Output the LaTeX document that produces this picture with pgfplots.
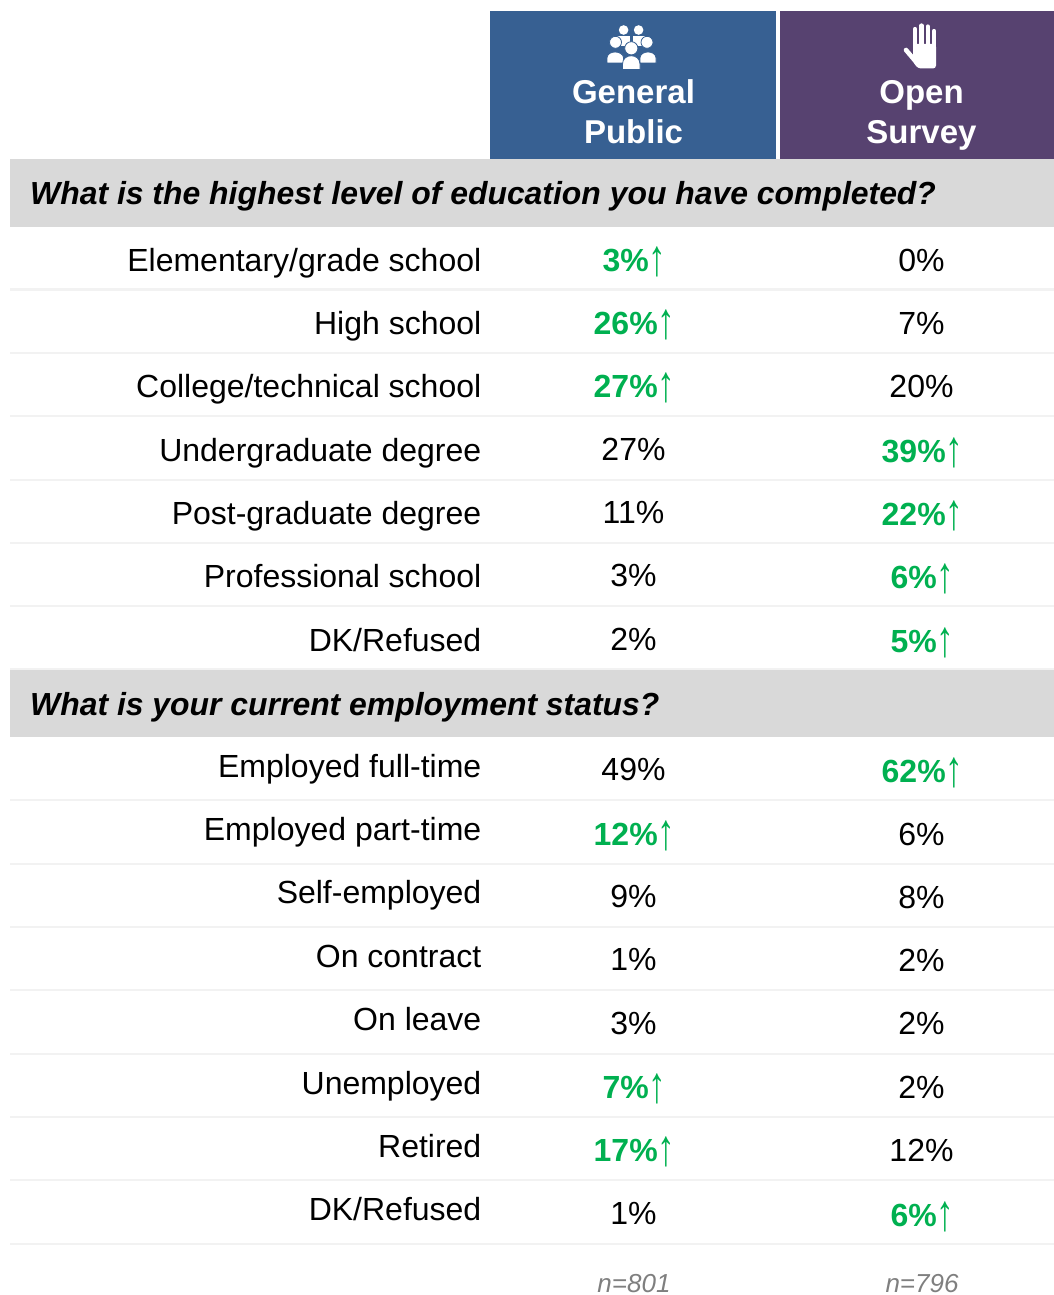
\documentclass[border=0pt]{standalone}
\usepackage{fontspec}
\setmainfont{Liberation Sans}
\usepackage{pgfplots}
\usepackage{pgfplotstable}
\pgfplotsset{compat=1.18}
\definecolor{gpblue}{HTML}{376092}
\definecolor{ospurple}{HTML}{574270}
\definecolor{band}{HTML}{D9D9D9}
\definecolor{rule}{HTML}{F2F2F2}
\definecolor{siggreen}{HTML}{00B050}
\definecolor{ngrey}{HTML}{7F7F7F}

% row labels: x, baseline y, text
\pgfplotstableread[col sep=comma]{
x,y,label
481.5,271,Elementary/grade school
481.5,334,High school
481.5,397,College/technical school
481.5,461,Undergraduate degree
481.5,524,Post-graduate degree
481.5,587,Professional school
481.5,651,DK/Refused
481.5,777,Employed full-time
481.5,840,Employed part-time
481.5,903,Self-employed
481.5,967,On contract
481.5,1030,On leave
481.5,1094,Unemployed
481.5,1157,Retired
481.5,1220,DK/Refused
}\rowlabels

% plain percentages
\pgfplotstableread{
x y val
921.5 271 0
921.5 334 7
921.5 397 20
633.5 460 27
633.5 523 11
633.5 586 3
633.5 650 2
633.5 780 49
921.5 845 6
633.5 907 9
921.5 908 8
633.5 970 1
921.5 971 2
633.5 1034 3
921.5 1034 2
921.5 1098 2
921.5 1161 12
633.5 1224 1
}\plainvals

% flagged percentages, bold green with arrow
\pgfplotstableread{
x y val
634.5 271 3
634.5 334 26
634.5 397 27
922.5 462 39
922.5 525 22
922.5 588 6
922.5 652 5
922.5 782 62
634.5 845 12
634.5 1098 7
634.5 1161 17
922.5 1226 6
}\sigvals

% hairlines between rows
\pgfplotstableread{
x y
10 289.5
1054 289.5
nan nan
10 353
1054 353
nan nan
10 416
1054 416
nan nan
10 480
1054 480
nan nan
10 543
1054 543
nan nan
10 606
1054 606
nan nan
10 669
1054 669
nan nan
10 800
1054 800
nan nan
10 864
1054 864
nan nan
10 927
1054 927
nan nan
10 990
1054 990
nan nan
10 1054
1054 1054
nan nan
10 1117
1054 1117
nan nan
10 1180
1054 1180
nan nan
10 1244
1054 1244
}\hairlines

\begin{document}
\begin{tikzpicture}
\begin{axis}[
    at={(0,0)}, anchor=south west,
    scale only axis,
    width=1054pt, height=1295pt,
    xmin=0, xmax=1054, ymin=0, ymax=1295,
    y dir=reverse,
    hide axis, clip=false,
    /pgf/number format/assume math mode=true,
    unbounded coords=jump,
]
\addplot[draw=none, fill=gpblue] coordinates {(490,11)(776,11)(776,159)(490,159)} --cycle;
\addplot[draw=none, fill=ospurple] coordinates {(780,11)(1054,11)(1054,159)(780,159)} --cycle;
\addplot[rule, line width=2.8pt] table[x=x,y=y] {\hairlines};
\addplot[draw=none, fill=band] coordinates {(10,159)(1054,159)(1054,227)(10,227)} --cycle;
\addplot[draw=none, fill=band] coordinates {(10,670)(1054,670)(1054,737)(10,737)} --cycle;

\addplot[draw=none, mark=none, point meta=explicit symbolic,
    nodes near coords={\pgfplotspointmeta},
    every node near coord/.append style={anchor=base east, inner sep=0pt, text=black,
        font=\fontsize{32}{36}\selectfont}]
    table[x=x,y=y,meta=label,col sep=comma] {\rowlabels};
\addplot[draw=none, mark=none, point meta=explicit,
    nodes near coords={\pgfmathprintnumber[fixed,precision=0]{\pgfplotspointmeta}\%},
    every node near coord/.append style={anchor=base, inner sep=0pt, text=black,
        font=\fontsize{32}{36}\selectfont}]
    table[x=x,y=y,meta=val] {\plainvals};
\addplot[draw=none, mark=none, point meta=explicit,
    nodes near coords={{\bfseries\pgfmathprintnumber[fixed,precision=0]{\pgfplotspointmeta}\%}\raisebox{-4.5pt}{\scalebox{1.1}[1.6]{↑}}},
    every node near coord/.append style={anchor=base, inner sep=0pt, text=siggreen,
        font=\fontsize{32}{36}\selectfont}]
    table[x=x,y=y,meta=val] {\sigvals};

% header and section text
\tikzset{hd/.style={anchor=base, inner sep=0pt, text=white, font=\fontsize{33}{36}\selectfont\bfseries},
         q/.style={anchor=base west, inner sep=0pt, font=\fontsize{31.9}{36}\selectfont\bfseries\itshape},
         nn/.style={anchor=base, inner sep=0pt, text=ngrey, font=\fontsize{26}{30}\selectfont\itshape}}
\node[hd] at (axis cs:633.5,104) {General};
\node[hd] at (axis cs:633.5,143.5) {Public};
\node[hd] at (axis cs:921.5,104) {Open};
\node[hd] at (axis cs:921.5,143.5) {Survey};
\node[q] at (axis cs:30,204) {What is the highest level of education you have completed?};
\node[q] at (axis cs:30,715) {What is your current employment status?};
\node[nn] at (axis cs:634,1292) {n=801};
\node[nn] at (axis cs:922,1292) {n=796};

% people icon
\fill[white] (axis cs:623.6,30) circle[radius=4.8];
\fill[white] (axis cs:638.6,30) circle[radius=4.8];
\fill[white] (axis cs:617,36) -- (axis cs:630,36) -- (axis cs:630,46) -- (axis cs:617,46) -- cycle;
\fill[white] (axis cs:633,36) -- (axis cs:646,36) -- (axis cs:646,46) -- (axis cs:633,46) -- cycle;
\fill[white, draw=gpblue, line width=0.8pt] (axis cs:607,63) -- (axis cs:607,58) .. controls (axis cs:607,50) and (axis cs:623,50) .. (axis cs:623.6,58) -- (axis cs:623.6,63) -- cycle;
\fill[white, draw=gpblue, line width=0.8pt] (axis cs:640,63) -- (axis cs:640,58) .. controls (axis cs:640,50) and (axis cs:656,50) .. (axis cs:656,58) -- (axis cs:656,63) -- cycle;
\fill[white, draw=gpblue, line width=0.8pt] (axis cs:615.5,42.3) circle[radius=6];
\fill[white, draw=gpblue, line width=0.8pt] (axis cs:647,42.3) circle[radius=6];
\fill[white, draw=gpblue, line width=0.8pt] (axis cs:622.5,69.5) -- (axis cs:622.5,64) .. controls (axis cs:622.5,53) and (axis cs:640,53) .. (axis cs:640,64) -- (axis cs:640,69.5) -- cycle;
\fill[white, draw=gpblue, line width=0.8pt] (axis cs:631.3,48.3) circle[radius=6.6];

% raised hand icon
\draw[white, line width=4.2pt, line cap=round] (axis cs:915,29) -- (axis cs:915,50);
\draw[white, line width=4.2pt, line cap=round] (axis cs:921.4,25.5) -- (axis cs:921.4,50);
\draw[white, line width=4.2pt, line cap=round] (axis cs:927.6,26.5) -- (axis cs:927.6,50);
\draw[white, line width=4.2pt, line cap=round] (axis cs:934,31) -- (axis cs:934,50);
\fill[white, rounded corners=3pt] (axis cs:913,44) -- (axis cs:936,44) -- (axis cs:936,68.5) -- (axis cs:918,68.5) -- (axis cs:913,62) -- cycle;
\draw[white, line width=4.6pt, line cap=round] (axis cs:906,50) -- (axis cs:917,63);
\end{axis}
\pgfresetboundingbox
\path[use as bounding box] (0,0) rectangle (1054pt,1295pt);
\end{tikzpicture}
\end{document}
